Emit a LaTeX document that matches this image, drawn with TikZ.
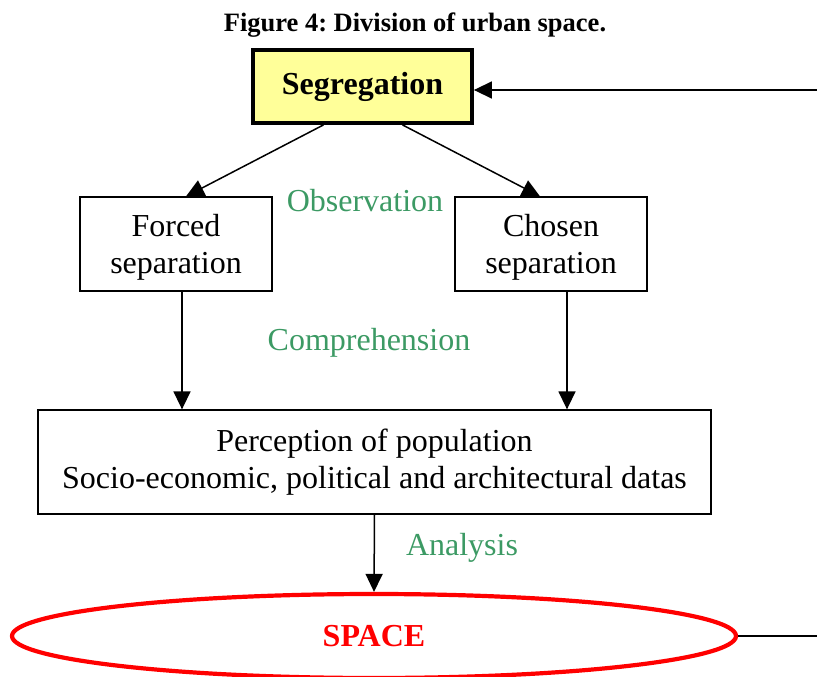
\documentclass[tikz,border=0pt]{standalone}
\usepackage{fontspec}
\setmainfont{Liberation Serif}
\usepackage{xcolor}
\usepackage{tikz}
\usetikzlibrary{positioning,arrows.meta,shapes.geometric}
\definecolor{labgreen}{HTML}{3C9A64}
\definecolor{segyellow}{HTML}{FFFF99}
\frenchspacing

\begin{document}
\begin{tikzpicture}
                [
                x=1pt,y=-1pt,
                every node/.style={font=\fontsize{32}{37.5}\selectfont},
                box/.style={rectangle,draw,line width=1.3pt,align=center,inner sep=0pt},
                label/.style={text=labgreen},
                edge/.style={-{Triangle[length=18pt,width=17pt]},line width=1.5pt}
                ]
            \useasboundingbox (0,0) rectangle (817,677);
            \node (title) at (415,25) {\fontsize{26.5}{30}\selectfont\bfseries Figure 4: Division of urban space.};
            \node[box,fill=segyellow,line width=3.8pt,minimum width=219pt,minimum height=73pt] (seg) at (362.5,86.5) {\bfseries Segregation};
            \node[box,text depth=0pt,minimum width=192pt,minimum height=94pt] (forced) at (176,244) {Forced\\separation};
            \node[box,text depth=0pt,minimum width=192pt,minimum height=94pt] (chosen) at (551,244) {Chosen\\separation};
            \node[box,minimum width=673pt,minimum height=104pt] (perc) at (374.5,462) {Perception of population\\Socio-economic, political and architectural datas};
            \node[ellipse,draw=red,line width=4.2pt,minimum width=724pt,minimum height=84pt,inner sep=0pt,text=red] (space) at (374,636) {\bfseries SPACE};
            \node[label] (obs) at (365,201) {Observation};
            \node[label] (comp) at (369,343) {Comprehension};
            \node[label] (ana) at (462,548) {Analysis};
            \coordinate (fbtop) at (817,90);
            \coordinate (fbbot) at (817,636);
            \draw[edge] ([xshift=-39pt]seg.south) -- ([xshift=10pt]forced.north);
            \draw[edge] ([xshift=40pt]seg.south) -- ([xshift=-11pt]chosen.north);
            \draw[edge] ([xshift=6pt]forced.south) -- ([xshift=6pt]forced.south |- perc.north);
            \draw[edge] ([xshift=16pt]chosen.south) -- ([xshift=16pt]chosen.south |- perc.north);
            \draw[edge] (perc.south) -- (space.north);
            \draw[edge] (fbtop) -- (seg.east |- fbtop);
            \draw[line width=1.5pt] (space.east) -- (fbbot);
            \end{tikzpicture}
\end{document}
